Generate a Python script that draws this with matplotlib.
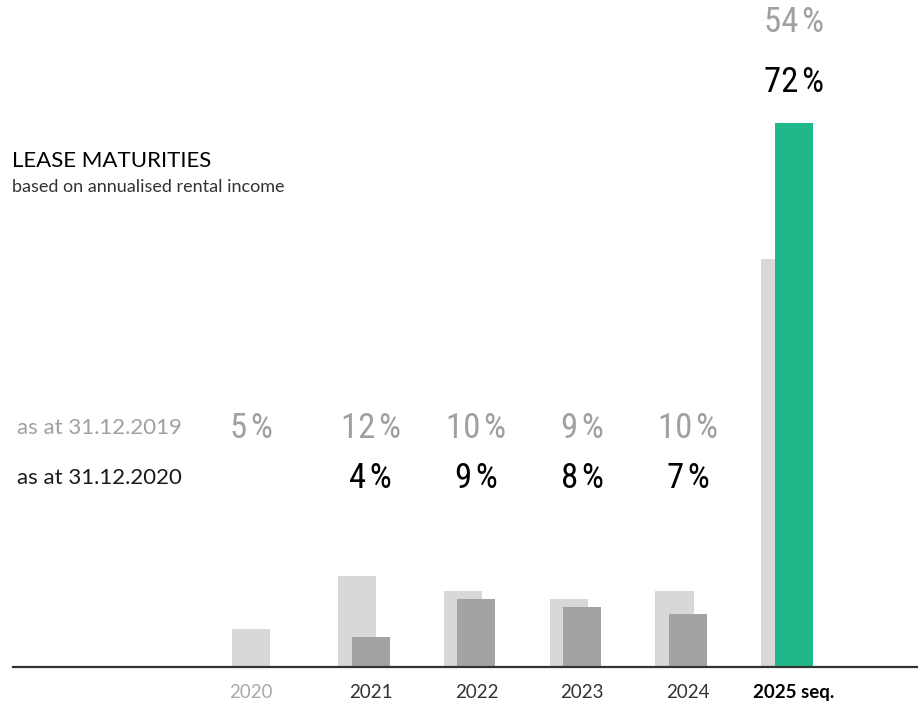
import numpy as np
import matplotlib.pyplot as plt
from matplotlib import font_manager

# -------------------------
# Data
# -------------------------
years = ["2020", "2021", "2022", "2023", "2024", "2025 seq."]
share_2019 = [5, 12, 10, 9, 10, 54]        # as at 31.12.2019 (%)
share_2020 = [None, 4, 9, 8, 7, 72]        # as at 31.12.2020 (%)

# -------------------------
# Style
# -------------------------
light_grey = "#d9d8d9"
dark_grey = "#a3a3a3"
green = "#20b88a"
label_grey = "#a0a0a0"

# look for a condensed face for the percentage labels
narrow, stretch = "DejaVu Sans", "normal"
for fam in ["Roboto Condensed", "Open Sans Condensed", "Liberation Sans Narrow",
            "Noto Sans", "DejaVu Sans", "Roboto", "Open Sans"]:
    try:
        fp = font_manager.FontProperties(family=fam, stretch="condensed")
        path = font_manager.findfont(fp, fallback_to_default=False)
    except Exception:
        continue
    if "ondensed" in path or "arrow" in path:
        narrow, stretch = fam, "condensed"
        break
print("narrow font:", narrow, stretch)

fig = plt.figure(figsize=(9.18, 7.04), dpi=100)
ax = fig.add_axes([13 / 918, 37 / 704, 905 / 918, 667 / 704])

x = np.arange(len(years))
w = 0.36
off = 0.128

# light bars (2019)
ax.bar(x, share_2019, width=w, color=light_grey, zorder=1)

# darker bars (2020), last one green
for i, v in enumerate(share_2020):
    if v is None:
        continue
    col = green if i == len(years) - 1 else dark_grey
    ax.bar(x[i] + off, v, width=w, color=col, zorder=2)

ax.set_xlim(-2.25, 6.30)
ax.set_ylim(0, 88.2)
for s in ["top", "right", "left"]:
    ax.spines[s].set_visible(False)
ax.spines["bottom"].set_color("#333333")
ax.spines["bottom"].set_linewidth(1.6)
ax.set_yticks([])

tick_pos = [x[i] + (off if share_2020[i] is not None else 0) for i in range(len(years))]
ax.set_xticks(tick_pos)
ax.set_xticklabels(years, family="Lato", fontsize=13.5)
ax.tick_params(axis="x", length=0, pad=12)
tl = ax.get_xticklabels()
tl[0].set_color("#aaaaaa")
for t in tl[1:-1]:
    t.set_color("#333333")
tl[-1].set_color("black")
tl[-1].set_fontweight("bold")

# value labels (hair space before the % sign)
trans = ax.get_xaxis_transform()
for i in range(len(years)):
    xp = tick_pos[i]
    if i == len(years) - 1:
        y19, y20 = 0.967, 0.877
    else:
        y19, y20 = 0.358, 0.283
    ax.text(xp, y19, f"{share_2019[i]}\u200a%", transform=trans, ha="center", va="center",
            family=[narrow, "DejaVu Sans"], fontstretch=stretch,
            fontsize=25, color=label_grey)
    if share_2020[i] is not None:
        ax.text(xp, y20, f"{share_2020[i]}\u200a%", transform=trans, ha="center", va="center",
                family=[narrow, "DejaVu Sans"], fontstretch=stretch,
                fontsize=25, color="black")

# row labels
fig.text(17 / 918, 1 - 428 / 704, "as at 31.12.2019", family="Lato",
         fontsize=16, color=label_grey, va="center", ha="left")
fig.text(17 / 918, 1 - 478 / 704, "as at 31.12.2020", family="Lato",
         fontsize=16, color="#1a1a1a", va="center", ha="left")

# title
fig.text(12 / 918, 1 - 161 / 704, "LEASE MATURITIES", family="Lato", fontsize=16,
         color="black", va="center", ha="left")
fig.text(12 / 918, 1 - 187 / 704, "based on annualised rental income", family="Lato",
         fontsize=13, color="#333333", va="center", ha="left")

fig.savefig("out.png", dpi=100)
